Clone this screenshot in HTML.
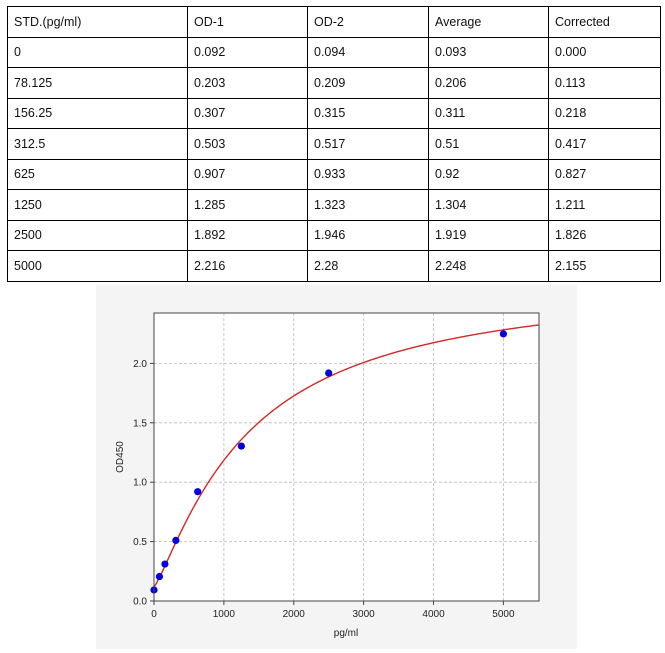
<!DOCTYPE html>
<html><head><meta charset="utf-8"><style>
body{margin:0;background:#fff;width:665px;height:653px;position:relative;font-family:"Liberation Sans",sans-serif;}
table{position:absolute;left:7px;top:6px;border-collapse:collapse;font-size:12.5px;color:#111;}
td{border:1px solid #000;height:30.5px;padding:0 0 0 6px;box-sizing:border-box;}
svg{position:absolute;left:0;top:0;}
</style></head><body>
<table>
<tr><td style="width:180px">STD.(pg/ml)</td><td style="width:120px">OD-1</td><td style="width:121px">OD-2</td><td style="width:120px">Average</td><td style="width:112px">Corrected</td></tr>
<tr><td>0</td><td>0.092</td><td>0.094</td><td>0.093</td><td>0.000</td></tr>
<tr><td>78.125</td><td>0.203</td><td>0.209</td><td>0.206</td><td>0.113</td></tr>
<tr><td>156.25</td><td>0.307</td><td>0.315</td><td>0.311</td><td>0.218</td></tr>
<tr><td>312.5</td><td>0.503</td><td>0.517</td><td>0.51</td><td>0.417</td></tr>
<tr><td>625</td><td>0.907</td><td>0.933</td><td>0.92</td><td>0.827</td></tr>
<tr><td>1250</td><td>1.285</td><td>1.323</td><td>1.304</td><td>1.211</td></tr>
<tr><td>2500</td><td>1.892</td><td>1.946</td><td>1.919</td><td>1.826</td></tr>
<tr><td>5000</td><td>2.216</td><td>2.28</td><td>2.248</td><td>2.155</td></tr>
</table>
<svg id="s" width="665" height="653" font-family="Liberation Sans, sans-serif" font-size="10" fill="#222">
<rect x="96" y="285" width="481" height="364" fill="#f4f4f4"/>
<rect x="154" y="313" width="385" height="288" fill="#fff"/>
<g id="g"></g>
<rect x="154" y="313" width="385" height="288" fill="none" stroke="#444" stroke-width="1"/>
<text x="346" y="636" text-anchor="middle">pg/ml</text>
<text transform="translate(123,457) rotate(-90)" text-anchor="middle">OD450</text>
</svg>
<script>
var g=document.getElementById('g'),h='';
function X(v){return 154+v*0.06988;}function Y(v){return 601-v*118.8;}
[0,1000,2000,3000,4000,5000].forEach(function(v){var x=X(v);
h+='<line x1="'+x+'" y1="313" x2="'+x+'" y2="601" stroke="#bbb" stroke-dasharray="3,2" stroke-width="0.8"/>';
h+='<line x1="'+x+'" y1="601" x2="'+x+'" y2="605" stroke="#444"/>';
h+='<text x="'+x+'" y="617" text-anchor="middle">'+v+'</text>';});
[0,0.5,1,1.5,2].forEach(function(v){var y=Y(v);
h+='<line x1="154" y1="'+y+'" x2="539" y2="'+y+'" stroke="#bbb" stroke-dasharray="3,2" stroke-width="0.8"/>';
h+='<line x1="150" y1="'+y+'" x2="154" y2="'+y+'" stroke="#444"/>';
h+='<text x="147" y="'+(y+3.5)+'" text-anchor="end">'+v.toFixed(1)+'</text>';});
var p='';for(var x=0;x<=5500;x+=25){var f=2.72-2.6/(1+Math.pow(x/1350,1.22));p+=(x?'L':'M')+X(x).toFixed(2)+','+Y(f).toFixed(2);}
h+='<path d="'+p+'" fill="none" stroke="#d62728" stroke-width="1.4"/>';
[[0,0.093],[78.125,0.206],[156.25,0.311],[312.5,0.51],[625,0.92],[1250,1.304],[2500,1.919],[5000,2.248]].forEach(function(d){
h+='<circle cx="'+X(d[0])+'" cy="'+Y(d[1])+'" r="3.6" fill="#0000e0"/>';});
g.innerHTML=h;
</script>
</body></html>
